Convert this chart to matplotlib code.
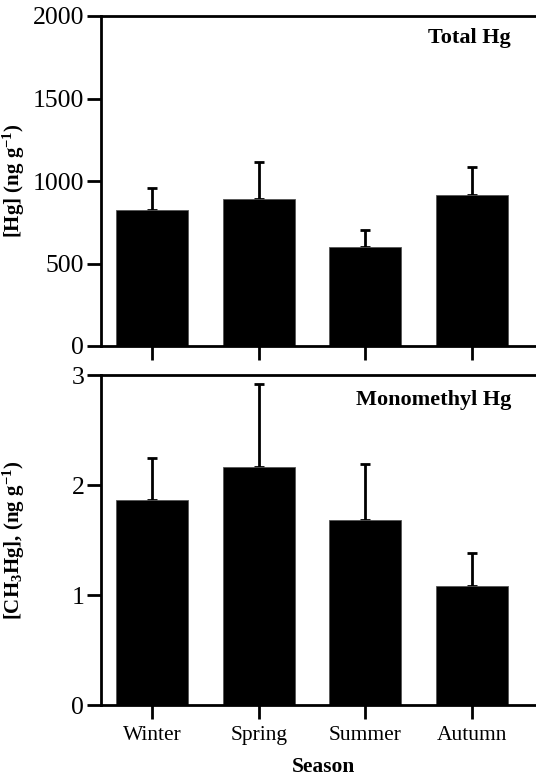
import numpy as np
import matplotlib
matplotlib.use("Agg")
import matplotlib.pyplot as plt

plt.rcParams['font.family'] = ['Liberation Serif', 'DejaVu Serif']
plt.rcParams['mathtext.fontset'] = 'custom'
plt.rcParams['mathtext.rm'] = 'Liberation Serif'
plt.rcParams['mathtext.bf'] = 'Liberation Serif:bold'
plt.rcParams['mathtext.default'] = 'bf'

seasons = ['Winter', 'Spring', 'Summer', 'Autumn']
total_hg = [824, 890, 600, 915]
total_hg_err = [134, 225, 103, 170]
mehg = [1.86, 2.16, 1.68, 1.085]
mehg_err = [0.39, 0.76, 0.51, 0.30]

fig = plt.figure(figsize=(5.36, 7.81), dpi=100)
W, H = 536, 781
ax1 = fig.add_axes([101 / W, 1 - 346 / H, 1.02 - 101 / W, (346 - 16) / H])
ax2 = fig.add_axes([101 / W, 1 - 705 / H, 1.02 - 101 / W, (705 - 375) / H])

x = np.arange(len(seasons))
width = 0.675

def draw(ax, vals, errs, ylim, yticks, label, title, ty):
    ax.bar(x, vals, width=width, color='black', edgecolor='#555555', linewidth=0.6, zorder=2)
    ax.errorbar(x, vals, yerr=[np.zeros(len(vals)), errs], fmt='none',
                ecolor='black', elinewidth=2, capsize=3.5, capthick=2, zorder=1)
    ax.set_xlim(-0.48, 3.70)
    ax.set_ylim(*ylim)
    ax.set_yticks(yticks)
    ax.set_xticks(x)
    for s in ['top', 'left', 'bottom']:
        ax.spines[s].set_linewidth(2)
    ax.spines['right'].set_visible(False)
    ax.tick_params(axis='both', direction='out', width=2, length=10, pad=2)
    ax.tick_params(axis='y', labelsize=18.5)
    ax.tick_params(axis='x', labelsize=15.5)
    ax.set_ylabel(label, fontsize=15, fontweight='bold')
    ax.yaxis.set_label_coords(-0.165, 0.5)
    ax.text(0.92, ty, title, transform=ax.transAxes, ha='right', va='top',
            fontsize=16, fontweight='bold')

draw(ax1, total_hg, total_hg_err, (0, 2000), [0, 500, 1000, 1500, 2000],
     '[Hg] (ng g$^{-1}$)', 'Total Hg', 0.965)
ax1.set_xticklabels([])

draw(ax2, mehg, mehg_err, (0, 3), [0, 1, 2, 3],
     '[CH$_3$Hg], (ng g$^{-1}$)', 'Monomethyl Hg', 0.955)
ax2.set_xticklabels(seasons)
ax2.tick_params(axis='x', pad=5)
ax2.set_xlabel('Season', fontsize=15.5, fontweight='bold', labelpad=9)

fig.savefig('out.png', dpi=100)
